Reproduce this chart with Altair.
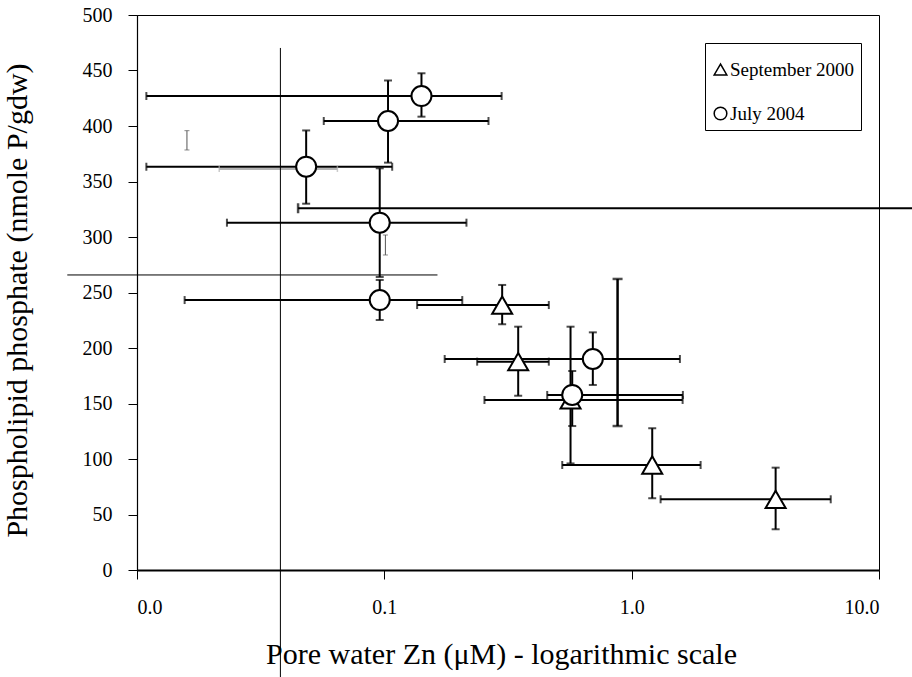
import altair as alt
import pandas as pd

# ---- data ----
series_names = ["September 2000", "July 2004"]

sept_x = [0.2995, 0.3477, 0.566, 1.211, 3.82]
sept_y = [238.7, 187.7, 153.2, 94.6, 63.7]
sept_xlo = [0.1357, 0.2373, 0.254, 0.524, 1.309]
sept_xhi = [0.4624, 0.4624, 1.607, 1.900, 6.38]
sept_ylo = [221.4, 157.0, 96.0, 64.6, 36.7]
sept_yhi = [256.8, 219.2, 219.2, 127.7, 92.2]

july_x = [0.1413, 0.1035, 0.0483, 0.0958, 0.0958, 0.6966, 0.575]
july_y = [427.0, 404.5, 363.3, 312.9, 243.2, 190.1, 157.7]
july_xlo = [0.01091, 0.0569, 0.01091, 0.0231, 0.01558, 0.1754, 0.4556]
july_xhi = [0.298, 0.2637, 0.1076, 0.2148, 0.2066, 1.567, 1.611]
july_ylo = [408.4, 367.0, 330.0, 264.0, 225.2, 166.7, 129.7]
july_yhi = [447.5, 441.0, 396.0, 361.9, 261.3, 214.1, 179.3]

# stray lines present in the reference picture
stray_vline_x = [0.038]
stray_vline_y1 = [470.3]
stray_vline_y2 = [-96.4]
stray_hline_y = [265.8]
stray_hline_x1 = [0.005226]
stray_hline_x2 = [0.164]
stray_hbar_y = [325.9]
stray_hbar_xlo = [0.0448]
stray_hbar_xhi = [14.6]
stray_vbar_x = [0.877]
stray_vbar_ylo = [129.7]
stray_vbar_yhi = [262.2]
grey_hbar_y = [361.3]
grey_hbar_xlo = [0.0215]
grey_hbar_xhi = [0.0646]
thin_vbar_x = [0.01592, 0.101]
thin_vbar_ylo = [378.4, 283.8]
thin_vbar_yhi = [395.8, 301.8]

x_ticks = [0.01, 0.1, 1, 10]
y_ticks = list(range(0, 501, 50))

FONT = "Liberation Serif"

pts = pd.concat([
    pd.DataFrame({"series": series_names[0], "x": sept_x, "y": sept_y,
                  "xlo": sept_xlo, "xhi": sept_xhi, "ylo": sept_ylo, "yhi": sept_yhi}),
    pd.DataFrame({"series": series_names[1], "x": july_x, "y": july_y,
                  "xlo": july_xlo, "xhi": july_xhi, "ylo": july_ylo, "yhi": july_yhi}),
], ignore_index=True)

xs = alt.Scale(type="log", domain=[0.01, 10], nice=False)
ys = alt.Scale(domain=[0, 500], nice=False, zero=False)

X = lambda f: alt.X(f"{f}:Q", scale=xs)
Y = lambda f: alt.Y(f"{f}:Q", scale=ys)

base = alt.Chart(pts)

axis_common = dict(grid=False, labelFont=FONT, titleFont=FONT, labelFontSize=20, titleFontSize=30,
                   labelColor="black", titleColor="black", titleFontWeight="normal",
                   domainColor="black", tickColor="black", tickWidth=1, tickSize=9)

hbars = base.mark_rule(color="black", strokeWidth=2).encode(
    x=alt.X("xlo:Q", scale=xs,
            axis=alt.Axis(values=x_ticks, format=".1f", title="Pore water Zn (μM) - logarithmic scale",
                          domainWidth=2, labelPadding=18, titlePadding=22, titleX=364, **axis_common)),
    x2="xhi:Q",
    y=alt.Y("y:Q", scale=ys,
            axis=alt.Axis(values=y_ticks, title="Phospholipid phosphate (nmole P/gdw)",
                          domainWidth=1.2, labelPadding=16, titlePadding=50, titleY=285, **axis_common)),
)
vbars = base.mark_rule(color="black", strokeWidth=2).encode(x=X("x"), y=Y("ylo"), y2="yhi:Q")

cap_lo = base.mark_tick(color="black", orient="vertical", size=8, thickness=2).encode(x=X("xlo"), y=Y("y"))
cap_hi = base.mark_tick(color="black", orient="vertical", size=8, thickness=2).encode(x=X("xhi"), y=Y("y"))
cap_ylo = base.mark_tick(color="black", orient="horizontal", size=8, thickness=2).encode(x=X("x"), y=Y("ylo"))
cap_yhi = base.mark_tick(color="black", orient="horizontal", size=8, thickness=2).encode(x=X("x"), y=Y("yhi"))

leg = alt.Legend(title=" ", titleFontSize=8, titlePadding=3, orient="none", legendX=568, legendY=28,
                 fillColor="white", strokeColor="black", padding=6,
                 rowPadding=24, labelOffset=0,
                 labelFont=FONT, labelFontSize=19, labelColor="black",
                 symbolSize=160, symbolStrokeWidth=1.5, symbolOpacity=1,
                 symbolFillColor="white", symbolStrokeColor="black")

points = base.mark_point(filled=False, fill="white", strokeWidth=2, opacity=1, fillOpacity=1, size=400).encode(
    x=X("x"), y=Y("y"),
    shape=alt.Shape("series:N", scale=alt.Scale(domain=series_names, range=["triangle-up", "circle"]),
                    legend=leg),
    stroke=alt.Stroke("series:N", scale=alt.Scale(domain=series_names, range=["black", "black"]),
                      legend=leg),
)

# stray lines
d_vline = pd.DataFrame({"x": stray_vline_x, "y1": stray_vline_y1, "y2": stray_vline_y2})
vline = alt.Chart(d_vline).mark_rule(color="black", strokeWidth=1).encode(x=X("x"), y=Y("y1"), y2="y2:Q")
d_hline = pd.DataFrame({"y": stray_hline_y, "x1": stray_hline_x1, "x2": stray_hline_x2})
hline = alt.Chart(d_hline).mark_rule(color="black", strokeWidth=1).encode(x=X("x1"), x2="x2:Q", y=Y("y"))

d_hbar = pd.DataFrame({"y": stray_hbar_y, "xlo": stray_hbar_xlo, "xhi": stray_hbar_xhi})
shbar = alt.Chart(d_hbar).mark_rule(color="black", strokeWidth=2).encode(x=X("xlo"), x2="xhi:Q", y=Y("y"))
shcap = alt.Chart(d_hbar).mark_tick(color="black", orient="vertical", size=10, thickness=2.5).encode(x=X("xlo"), y=Y("y"))

d_vbar = pd.DataFrame({"x": stray_vbar_x, "ylo": stray_vbar_ylo, "yhi": stray_vbar_yhi})
svbar = alt.Chart(d_vbar).mark_rule(color="black", strokeWidth=2.5).encode(x=X("x"), y=Y("ylo"), y2="yhi:Q")
svcap1 = alt.Chart(d_vbar).mark_tick(color="black", orient="horizontal", size=10, thickness=2.5).encode(x=X("x"), y=Y("ylo"))
svcap2 = alt.Chart(d_vbar).mark_tick(color="black", orient="horizontal", size=10, thickness=2.5).encode(x=X("x"), y=Y("yhi"))

d_ghbar = pd.DataFrame({"y": grey_hbar_y, "xlo": grey_hbar_xlo, "xhi": grey_hbar_xhi})
ghbar = alt.Chart(d_ghbar).mark_rule(color="#b4b4b4", strokeWidth=2).encode(x=X("xlo"), x2="xhi:Q", y=Y("y"))
ghcap1 = alt.Chart(d_ghbar).mark_tick(color="#b4b4b4", orient="vertical", size=6, thickness=1.5).encode(x=X("xlo"), y=Y("y"))
ghcap2 = alt.Chart(d_ghbar).mark_tick(color="#b4b4b4", orient="vertical", size=6, thickness=1.5).encode(x=X("xhi"), y=Y("y"))

d_tvbar = pd.DataFrame({"x": thin_vbar_x, "ylo": thin_vbar_ylo, "yhi": thin_vbar_yhi})
tvbar = alt.Chart(d_tvbar).mark_rule(color="#555555", strokeWidth=1).encode(x=X("x"), y=Y("ylo"), y2="yhi:Q")
tvcap1 = alt.Chart(d_tvbar).mark_tick(color="#555555", orient="horizontal", size=5, thickness=1).encode(x=X("x"), y=Y("ylo"))
tvcap2 = alt.Chart(d_tvbar).mark_tick(color="#555555", orient="horizontal", size=5, thickness=1).encode(x=X("x"), y=Y("yhi"))

chart = alt.layer(
    hbars, vbars, cap_lo, cap_hi, cap_ylo, cap_yhi,
    ghbar, ghcap1, ghcap2, tvbar, tvcap1, tvcap2,
    shbar, shcap, svbar, svcap1, svcap2,
    points, vline, hline,
).properties(
    width=742, height=555,
    autosize=alt.AutoSizeParams(type="none"),
    padding={"left": 137, "top": 15, "right": 33, "bottom": 107},
    background="white",
).configure_view(
    stroke="black", strokeWidth=1,
)

chart.save("out.html", embed_options={"renderer": "svg", "actions": False})
